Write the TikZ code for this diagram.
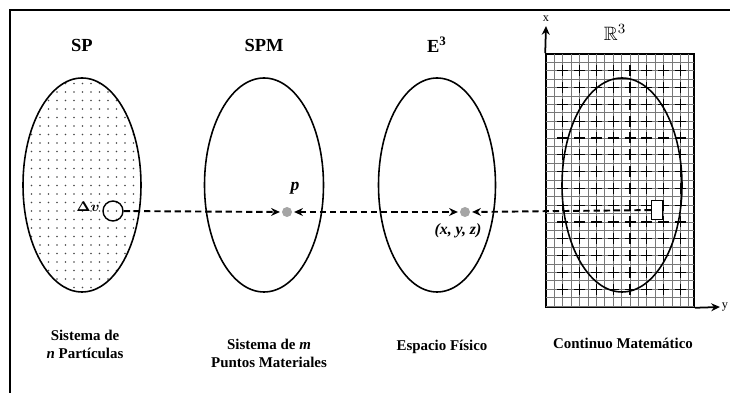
\documentclass[tikz,border=0pt]{standalone}
\usepackage{amsmath,amssymb}
\usepackage{fontspec}
\setmainfont{Liberation Serif}
\usetikzlibrary{arrows.meta,positioning,shapes.geometric}
\definecolor{dotgray}{RGB}{70,70,70}
\definecolor{ptgray}{RGB}{165,165,165}
\definecolor{gridgray}{RGB}{120,120,120}

\begin{document}
\begin{tikzpicture}[
    set/.style={draw, ellipse, line width=0.9pt, minimum width=2.36cm, minimum height=4.28cm, inner sep=0pt},
    title/.style={font=\bfseries\fontsize{10.5}{12}\selectfont},
    caption/.style={align=center, font=\bfseries\fontsize{8.5}{10.2}\selectfont},
    pt/.style={circle, fill=ptgray, minimum size=0.2cm, inner sep=0pt},
    link/.style={dash pattern=on 3.6pt off 2.2pt, line width=1.1pt},
    >={Stealth[length=5pt,width=4.5pt]}
  ]
    \useasboundingbox (0,0) rectangle (14.6,-7.86);
    \draw[line width=1.2pt] (14.6,-0.2) -- (0.2,-0.2) -- (0.2,-7.86);

    % dotted fill of SP
    \begin{scope}
      \clip (1.64,-3.70) ellipse [x radius=1.18, y radius=2.14];
      \foreach \i in {0,...,14}
        \foreach \j in {0,...,26}
          \fill[dotgray] (0.46+0.17*\i,-1.50-0.17*\j) circle (0.018);
    \end{scope}

    % grid of R3
    \node[draw, line width=0.9pt, minimum width=2.96cm, minimum height=5.06cm, inner sep=0pt] (box) at (12.40,-3.61) {};
    \foreach \k in {1,...,17}
      \draw[gridgray, line width=0.4pt] (10.92+0.168*\k,-1.08) -- (10.92+0.168*\k,-6.14);
    \foreach \k in {1,...,30}
      \draw[gridgray, line width=0.4pt] (10.92,-1.08-0.168*\k) -- (13.88,-1.08-0.168*\k);
    \foreach \i in {1,...,8}
      \foreach \j in {1,...,14}
        \draw[line width=0.7pt] (10.81+0.336*\i,-1.08-0.336*\j) -- (11.03+0.336*\i,-1.08-0.336*\j)
          (10.92+0.336*\i,-0.97-0.336*\j) -- (10.92+0.336*\i,-1.19-0.336*\j);

    \node[set] (SP) at (1.64,-3.70) {};
    \node[set, minimum width=2.38cm] (SPM) at (5.28,-3.70) {};
    \node[set, minimum width=2.34cm] (E3) at (8.74,-3.70) {};
    \node[set, minimum width=2.40cm] (R3) at (12.44,-3.70) {};

    \node[title] (tSP) at (1.64,-0.90) {SP};
    \node[title] (tSPM) at (5.28,-0.90) {SPM};
    \node[title] (tE3) at (8.74,-0.90) {E\textsuperscript{3}};
    \node[font=\fontsize{11}{12}\selectfont] (tR3) at (12.30,-0.64) {$\mathbb{R}^3$};

    % axes
    \coordinate (xend) at (10.92,-0.52);
    \coordinate (yend) at (14.40,-6.14);
    \draw[->, line width=1pt] (box.north west) -- (xend);
    \draw[->, line width=1pt] (box.south east) -- (yend);
    \node[font=\fontsize{7}{8}\selectfont, inner sep=0pt] (xlab) at (10.92,-0.38) {x};
    \node[font=\fontsize{7}{8}\selectfont, inner sep=0pt, anchor=west] (ylab) at (14.43,-6.14) {y};

    % points
    \node[draw, circle, line width=0.8pt, minimum size=0.40cm, inner sep=0pt] (dv) at (2.26,-4.22) {};
    \node[font=\bfseries\fontsize{8.5}{9}\selectfont] (dvlab) at (1.76,-4.14) {$\boldsymbol{\Delta v}$};
    \node[pt] (p) at (5.74,-4.24) {};
    \node[font=\bfseries\itshape\fontsize{10}{11}\selectfont] (plab) at (5.90,-3.76) {p};
    \node[pt] (xyz) at (9.30,-4.24) {};
    \node[font=\bfseries\itshape\fontsize{9}{10}\selectfont] (xyzlab) at (9.16,-4.62) {(x, y, z)};
    \node[draw, fill=white, line width=0.8pt, minimum width=0.22cm, minimum height=0.38cm, inner sep=0pt] (cell) at (13.14,-4.20) {};

    \draw[link, ->] (dv) -- ([xshift=-1pt]p.west);
    \draw[link, <->] ([xshift=1pt]p.east) -- ([xshift=-1pt]xyz.west);
    \draw[link, ->] (cell) -- ([xshift=1pt]xyz.east);

    \node[caption] (cSP) at (1.70,-6.88) {Sistema de\\\textit{n} Partículas};
    \node[caption] (cSPM) at (5.38,-7.06) {Sistema de \textit{m}\\Puntos Materiales};
    \node[caption] (cE3) at (8.84,-6.94) {Espacio Físico};
    \node[caption] (cR3) at (12.46,-6.86) {Continuo Matemático};
  \end{tikzpicture}
\end{document}
